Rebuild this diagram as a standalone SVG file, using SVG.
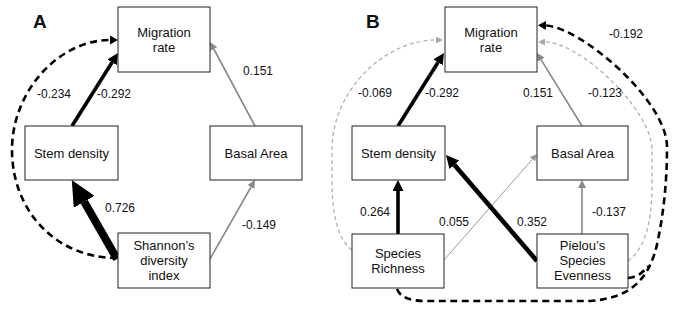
<svg xmlns="http://www.w3.org/2000/svg" width="680" height="315" viewBox="0 0 680 315">
<style>
  .box{fill:#fff;stroke:#222;stroke-width:1}
  .nt{font-family:"Liberation Sans",Arial,sans-serif;font-size:13px;fill:#111;text-anchor:middle}
  .lb{font-family:"Liberation Sans",Arial,sans-serif;font-size:12px;fill:#111}
  .pl{font-family:"Liberation Sans",Arial,sans-serif;font-size:19px;font-weight:bold;fill:#111}
  .blk{stroke:#000;fill:none}
  .gry{stroke:#888;fill:none;stroke-width:1.6}
  .gthin{stroke:#999;fill:none;stroke-width:1}
  .bdash{stroke:#000;fill:none;stroke-width:2.6;stroke-dasharray:7 4.5}
  .gdash{stroke:#aaa;fill:none;stroke-width:1.2;stroke-dasharray:4 3}
</style>
<defs>
  <marker id="hBig" markerUnits="userSpaceOnUse" markerWidth="25" markerHeight="24" viewBox="0 0 25 24" refX="0" refY="12" orient="auto"><path d="M0,0 L25,12 L0,24 z" fill="#000"/></marker>
  <marker id="hBlk" markerUnits="userSpaceOnUse" markerWidth="11" markerHeight="11" viewBox="0 0 11 11" refX="0" refY="5.5" orient="auto"><path d="M0,0 L11,5.5 L0,11 z" fill="#000"/></marker>
  <marker id="hBlk2" markerUnits="userSpaceOnUse" markerWidth="13" markerHeight="13" viewBox="0 0 13 13" refX="0" refY="6.5" orient="auto"><path d="M0,0 L13,6.5 L0,13 z" fill="#000"/></marker>
  <marker id="hGry" markerUnits="userSpaceOnUse" markerWidth="8" markerHeight="8" viewBox="0 0 8 8" refX="0" refY="4" orient="auto"><path d="M0,0 L8,4 L0,8 z" fill="#888"/></marker>
  <marker id="hGthin" markerUnits="userSpaceOnUse" markerWidth="7" markerHeight="7" viewBox="0 0 7 7" refX="0" refY="3.5" orient="auto"><path d="M0,0 L7,3.5 L0,7 z" fill="#999"/></marker>
  <marker id="hBd" markerUnits="userSpaceOnUse" markerWidth="8" markerHeight="9" viewBox="0 0 8 9" refX="0" refY="4.5" orient="auto"><path d="M0,0 L8,4.5 L0,9 z" fill="#000"/></marker>
  <marker id="hGd" markerUnits="userSpaceOnUse" markerWidth="7" markerHeight="7" viewBox="0 0 7 7" refX="0" refY="3.5" orient="auto"><path d="M0,0 L7,3.5 L0,7 z" fill="#aaa"/></marker>
</defs>

<g id="connectors">
  <!-- Panel A -->
  <path class="bdash" d="M117,258 C55,258 12,210 12,150 C12,90 60,40 110,40" marker-end="url(#hBd)"/>
  <line class="blk" stroke-width="3.6" x1="72" y1="126" x2="112.1" y2="62.3" marker-end="url(#hBlk)"/>
  <line class="gry" x1="255" y1="126" x2="213.8" y2="49" marker-end="url(#hGry)"/>
  <line class="blk" stroke-width="8" x1="117" y1="259" x2="84.2" y2="201.8" marker-end="url(#hBig)"/>
  <line class="gry" x1="210" y1="259" x2="251" y2="187" marker-end="url(#hGry)"/>
  <!-- Panel B -->
  <path class="gdash" d="M352,250 C338,240 332,215 332,180 L332,150 C332,90 385,40 436,40" marker-end="url(#hGd)"/>
  <path class="gdash" d="M628,261 C645,248 651,225 652,190 L652,150 C652,110 580,42 545,42" marker-end="url(#hGd)"/>
  <path class="bdash" d="M397,289 C400,297 410,301 425,301 L590,301 C630,298 650,280 658,240 C664,210 667,180 667,147 C667,100 580,27 546,25.5" marker-end="url(#hBd)"/>
  <path class="bdash" d="M628,278 C636,277 642,274 648,266"/>
  <line class="blk" stroke-width="3.6" x1="398" y1="126" x2="438.1" y2="62.3" marker-end="url(#hBlk)"/>
  <line class="gry" x1="582" y1="126" x2="541.2" y2="59.8" marker-end="url(#hGry)"/>
  <line class="blk" stroke-width="3.6" x1="398" y1="234" x2="398" y2="191" marker-end="url(#hBlk)"/>
  <line class="gthin" x1="444" y1="260" x2="532.4" y2="159.3" marker-end="url(#hGthin)"/>
  <line class="blk" stroke-width="4.6" x1="537" y1="261" x2="454.5" y2="164.9" marker-end="url(#hBlk2)"/>
  <line class="gry" x1="582" y1="234" x2="582" y2="188" marker-end="url(#hGry)"/>
</g>

<g id="labels">
  <text class="pl" x="33" y="28">A</text>
  <text class="pl" x="366" y="28">B</text>
  <text class="lb" x="37" y="98">-0.234</text>
  <text class="lb" x="97" y="98">-0.292</text>
  <text class="lb" x="243" y="75">0.151</text>
  <text class="lb" x="105" y="212">0.726</text>
  <text class="lb" x="242" y="229">-0.149</text>
  <text class="lb" x="358" y="97">-0.069</text>
  <text class="lb" x="425" y="97">-0.292</text>
  <text class="lb" x="523" y="97">0.151</text>
  <text class="lb" x="588" y="97">-0.123</text>
  <text class="lb" x="609" y="38">-0.192</text>
  <text class="lb" x="360" y="216">0.264</text>
  <text class="lb" x="439" y="226">0.055</text>
  <text class="lb" x="517" y="226">0.352</text>
  <text class="lb" x="592" y="216">-0.137</text>
</g>

<g id="A-migration"><rect class="box" x="118" y="7" width="92" height="65"/><text class="nt" x="164" y="37">Migration</text><text class="nt" x="164" y="52">rate</text></g>
<g id="A-stem"><rect class="box" x="25" y="126" width="93" height="54"/><text class="nt" x="71.5" y="158">Stem density</text></g>
<g id="A-basal"><rect class="box" x="210" y="126" width="92" height="54"/><text class="nt" x="256" y="158">Basal Area</text></g>
<g id="A-shannon"><rect class="box" x="118" y="233" width="92" height="55"/><text class="nt" x="164" y="250">Shannon’s</text><text class="nt" x="164" y="265">diversity</text><text class="nt" x="164" y="280">index</text></g>

<g id="B-migration"><rect class="box" x="445" y="7" width="92" height="65"/><text class="nt" x="491" y="37">Migration</text><text class="nt" x="491" y="52">rate</text></g>
<g id="B-stem"><rect class="box" x="352" y="126" width="93" height="54"/><text class="nt" x="398.5" y="158">Stem density</text></g>
<g id="B-basal"><rect class="box" x="537" y="126" width="91" height="54"/><text class="nt" x="582.5" y="158">Basal Area</text></g>
<g id="B-richness"><rect class="box" x="352" y="234" width="92" height="54"/><text class="nt" x="398" y="258">Species</text><text class="nt" x="398" y="273">Richness</text></g>
<g id="B-pielou"><rect class="box" x="537" y="234" width="91" height="54"/><text class="nt" x="582.5" y="250">Pielou’s</text><text class="nt" x="582.5" y="265">Species</text><text class="nt" x="582.5" y="280">Evenness</text></g>
</svg>
